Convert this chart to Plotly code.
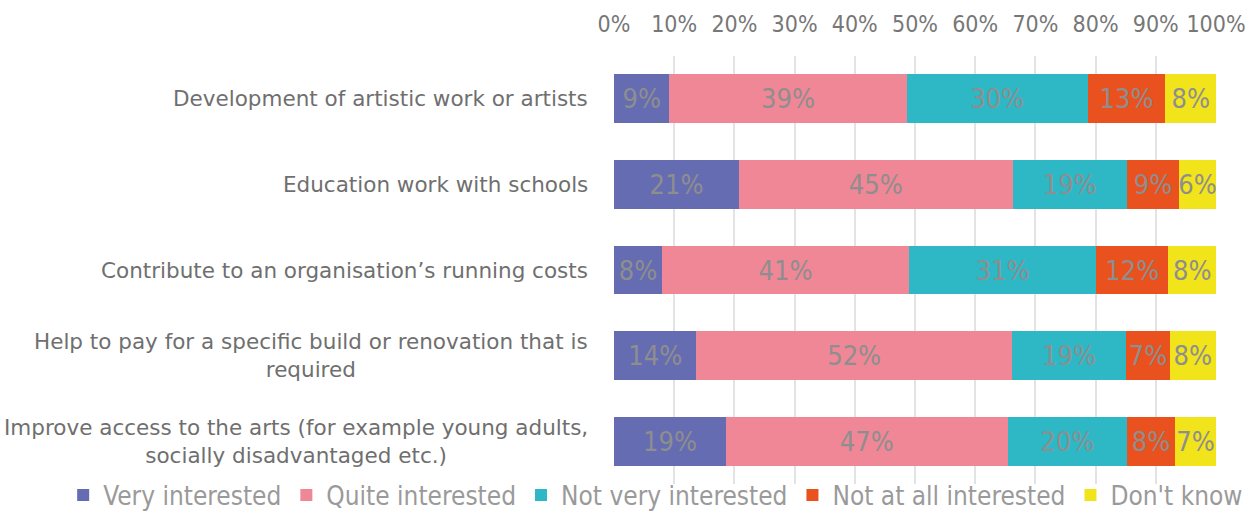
import plotly.graph_objects as go

categories = [
    "Development of artistic work or artists",
    "Education work with schools",
    "Contribute to an organisation\u2019s running costs",
    "Help to pay for a specific build or renovation that is<br>required",
    "Improve access to the arts (for example young adults,<br>socially disadvantaged etc.)",
]
series_names = ["Very interested", "Quite interested", "Not very interested",
                "Not at all interested", "Don't know"]
very = [9.2, 20.8, 8.0, 13.7, 18.6]
quite = [39.4, 45.4, 41.0, 52.4, 46.8]
not_very = [30.1, 19.0, 31.1, 19.0, 19.8]
not_at_all = [12.9, 8.7, 12.0, 7.2, 8.0]
dont_know = [8.4, 6.1, 7.9, 7.7, 6.8]
series_values = [very, quite, not_very, not_at_all, dont_know]
colors = ["#666cb1", "#f08797", "#2eb8c6", "#e9511e", "#f2e41b"]
tick_vals = [0, 10, 20, 30, 40, 50, 60, 70, 80, 90, 100]
tick_text = [f"{v}%" for v in tick_vals]

num_font = "'Liberation Sans Narrow', 'DejaVu Sans Condensed', 'Roboto Condensed', Roboto, sans-serif"
cat_font = "'DejaVu Sans', Verdana, sans-serif"

fig = go.Figure()
for name, vals, col in zip(series_names, series_values, colors):
    fig.add_trace(go.Bar(
        y=categories, x=vals, name=name, orientation="h",
        marker=dict(color=col, line=dict(width=0)),
        text=[f"{round(v)}%" for v in vals],
        textposition="inside", insidetextanchor="middle", textangle=0,
        textfont=dict(family=num_font, size=27, color="#8e8e8e"),
        constraintext="none",
    ))

for c in categories:
    fig.add_annotation(
        x=-0.04, xref="paper", y=c, yref="y", text=c, showarrow=False,
        xanchor="right", align="center",
        font=dict(family=cat_font, size=21.5, color="#6f6f6f"),
    )

fig.update_layout(
    barmode="stack",
    bargap=0.43,
    width=1253, height=511,
    margin=dict(l=614, r=37, t=56, b=27, autoexpand=False),
    plot_bgcolor="white", paper_bgcolor="white",
    uniformtext=dict(mode=False),
    xaxis=dict(
        side="top", range=[0, 100], tickvals=tick_vals, ticktext=tick_text,
        showgrid=True, gridcolor="#e3e3e3", gridwidth=1.5, zeroline=False,
        tickfont=dict(family=num_font, size=23, color="#777777"),
        ticks="outside", ticklen=14, tickcolor="rgba(0,0,0,0)",
        showline=False, fixedrange=True,
    ),
    yaxis=dict(autorange="reversed", showticklabels=False, ticks="",
               showgrid=False, showline=False),
    legend=dict(
        orientation="h", xref="paper", x=-0.915, xanchor="left",
        yref="paper", y=-0.026, yanchor="middle",
        font=dict(family=num_font, size=26, color="#9a9a9a"),
        itemwidth=30, tracegroupgap=0, traceorder="normal",
        bgcolor="rgba(0,0,0,0)",
    ),
    showlegend=True,
)

fig.write_html("out.html")
